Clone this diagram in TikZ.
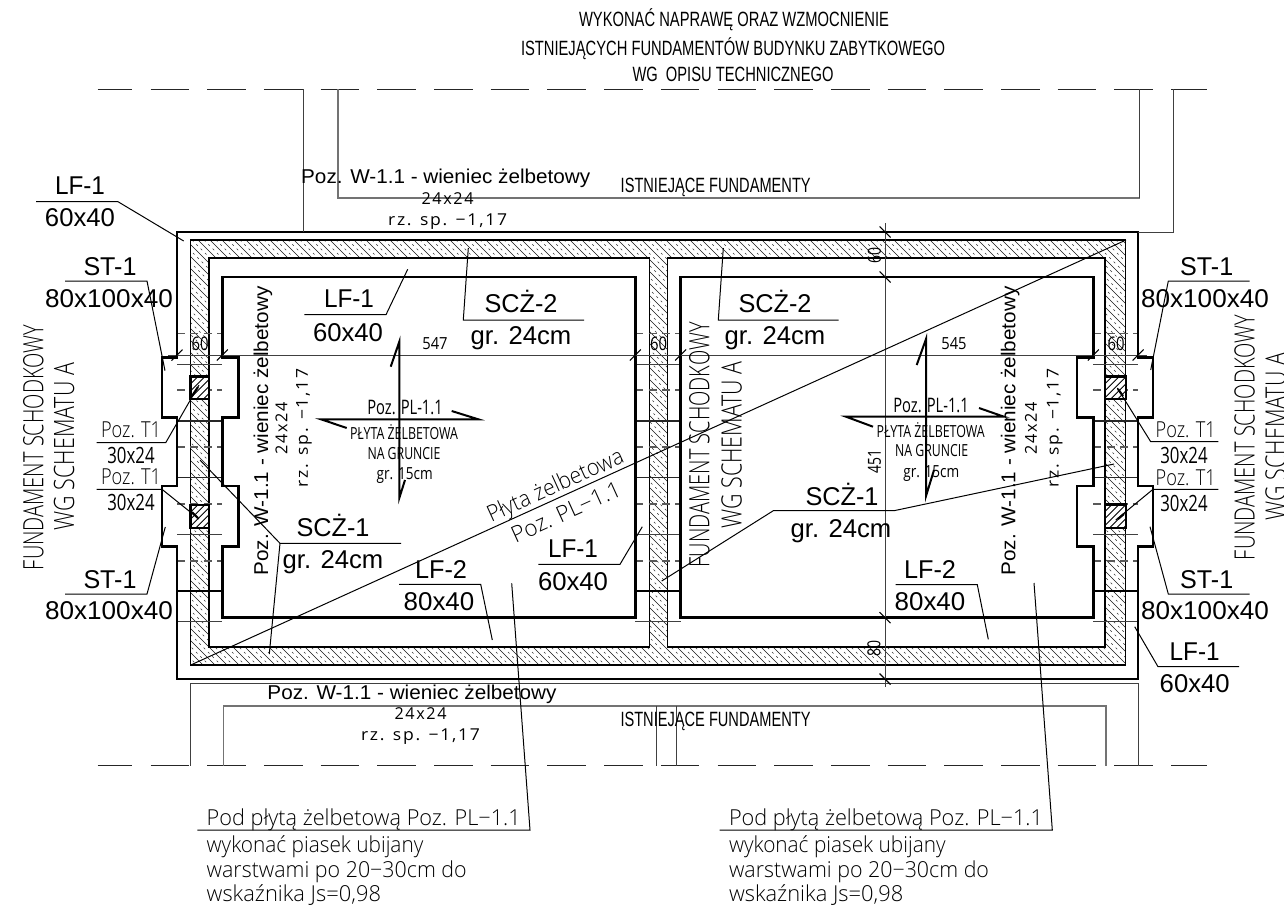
\documentclass[tikz,border=0pt]{standalone}
\usepackage{fontspec}
\usepackage{graphicx}
\newfontfamily\ari{Liberation Sans}
\newfontfamily\cad{Open Sans}
\newfontfamily\cadl{Open Sans Light}
\newfontfamily\cadw[LetterSpace=10]{Open Sans}
\newlength\uu \setlength\uu{0.75pt}
% #1 family, #2 size in pt, #3 width in px, #4 text; reference point = centre of the capitals
\newcommand\fit[4]{\raisebox{-0.358\dimexpr#2pt\relax}[0pt][0pt]{\resizebox{#3\uu}{\height}{\fontsize{#2pt}{#2pt}\selectfont#1{}#4}}}
\newcommand\A[2]{\fit{\ari}{19.3}{#1}{#2}}
\newcommand\W{\fit{\ari}{15}{289}{Poz. W-1.1 - wieniec żelbetowy}}
\newcommand\Ts[1]{\fit{\cadw}{12.3}{52}{24x24}}
\newcommand\Rz{\fit{\cadw}{12.3}{119}{rz. sp. −1,17}}
\tikzset{
  tx/.style={inner sep=0pt,outer sep=0pt,anchor=center},
  thickw/.style={line width=1.95pt,black,line join=miter},
  band/.style={line width=1pt,black},
  leader/.style={line width=0.75pt,black},
  dim/.style={line width=0.7pt,black!75},
  greyl/.style={line width=1.2pt,black!55},
  thinw/.style={line width=0.75pt,black!75},
  dashw/.style={line width=0.9pt,black!65,dash pattern=on 6pt off 4pt},
  hatchs/.style={line width=0.5pt,black!90},
  hatchd/.style={line width=0.45pt,black!80,dash pattern=on 1.6pt off 3pt},
  tick/.style={line width=0.8pt,black},
  arrowl/.style={line width=1.5pt,black},
}
\begin{document}
\begin{tikzpicture}[x=0.75pt,y=-0.75pt]
\useasboundingbox (0,0) rectangle (1284,904);
% hatching of the wall band
\begin{scope}
\clip (190.7,240) rectangle (1125.7,665);
\foreach \c in {-474,-462,...,886} \draw[hatchs] (\c+240,240) -- (\c+665,665);
\foreach \c in {-468,-456,...,886} \draw[hatchd] (\c+240,240) -- (\c+665,665);
\end{scope}
\fill[white] (209,258) rectangle (649.3,647);
\fill[white] (667.3,258) rectangle (1105,647);
\draw[band] (190.7,240) rectangle (1125.7,665);
\draw[band] (209,258) rectangle (649.3,647);
\draw[band] (667.3,258) rectangle (1105,647);
% cross lines through the foundation walls
\foreach \a/\b in {177/222.3,635.3/680.7,1093.3/1138}{
  \foreach \y in {333.7,390,447,504,561} \draw[dashw] (\a,\y) -- (\b,\y);
  \foreach \y in {364,534,621} \draw[thinw] (\a,\y) -- (\b,\y);
  \foreach \y in {421,477.5} \draw[line width=0.85pt,black!85] (\a,\y) -- (\b,\y);
  \draw[line width=1.1pt,black] (\a,591) -- (\b,591);
}
% columns T1
\foreach \x/\xx/\y/\yy in {190.7/209/376.7/399,190.7/209/505/528,1105/1126/376.7/399,1105/1126/504.5/528}{
  \fill[white] (\x,\y) rectangle (\xx,\yy);
  \begin{scope}
  \clip (\x,\y) rectangle (\xx,\yy);
  \foreach \d in {0,7,...,56} \draw[line width=0.7pt,black] (\x+\d,\y) -- (\x+\d-30,\y+30);
  \end{scope}
  \draw[line width=1.9pt,black] (\x,\y) rectangle (\xx,\yy);
}
% foundation outlines
\draw[thickw] (177,232) -- (1138,232) -- (1138,357.7) -- (1153,357.7) -- (1153,417.7) -- (1138,417.7) -- (1138,486) -- (1153,486) -- (1153,546.7) -- (1138,546.7) -- (1138,679) -- (177,679) -- (177,546.7) -- (162,546.7) -- (162,486) -- (177,486) -- (177,417.7) -- (162,417.7) -- (162,357.7) -- (177,357.7) -- cycle;
\draw[thickw] (222.3,277) -- (635.3,277) -- (635.3,617.7) -- (222.3,617.7) -- (222.3,546.7) -- (238.3,546.7) -- (238.3,486) -- (222.3,486) -- (222.3,417.7) -- (238.3,417.7) -- (238.3,357.7) -- (222.3,357.7) -- cycle;
\draw[thickw] (680.7,277) -- (1093.3,277) -- (1093.3,357.7) -- (1077,357.7) -- (1077,417.7) -- (1093.3,417.7) -- (1093.3,486) -- (1077,486) -- (1077,546.7) -- (1093.3,546.7) -- (1093.3,617.7) -- (680.7,617.7) -- cycle;
% existing foundations
\foreach \k in {1,...,19}{
  \pgfmathsetmacro\xa{93.8+56.7*\k}
  \pgfmathsetmacro\xb{min(\xa+38.6,1206.5)}
  \draw[line width=0.8pt,black!85] (\xa,89.3) -- (\xb,89.3);
  \draw[line width=0.8pt,black!85] (\xa,765.7) -- (\xb,765.7);
}
\draw[line width=0.8pt,black!85] (97.5,89.3) -- (132.4,89.3);
\draw[line width=0.8pt,black!85] (97.5,765.7) -- (132.4,765.7);
\draw[dim] (303,89.3) -- (303,232);
\draw[dim] (1173,89.3) -- (1173,232) -- (1138,232);
\draw[greyl] (338,89.3) -- (338,197.7) -- (1139.5,197.7);
\draw[dim] (1139.5,89.3) -- (1139.5,197.7);
\draw[dim] (190.7,765.7) -- (190.7,683.3) -- (1138,683.3) -- (1138,765.7);
\draw[greyl] (223.3,765.7) -- (223.3,706) -- (1105.7,706) -- (1105.7,765.7);
\draw[dim] (656.3,706) -- (656.3,765.7);
\draw[dim] (676.7,706) -- (676.7,765.7);
% dimension lines
\draw[dim] (168,355) -- (1147,355);
\foreach \x in {177,222.3,635.3,680.7,1093.3,1138} \draw[tick] (\x-5.5,360.5) -- (\x+5.5,349.5);
\draw[dim] (885,223) -- (885,687);
\foreach \y in {232,277,617.7,679} \draw[tick] (879.5,\y-5.5) -- (890.5,\y+5.5);
% slab span diagonal
\draw[leader] (190.7,665) -- (1126,240);
% slab arrows
\draw[arrowl] (390.7,366.7) -- (399.3,341.7) -- (399.3,498) -- (405,480);
\draw[arrowl] (346.7,428) -- (321,419.3) -- (478.3,419.3) -- (451.7,411);
\draw[arrowl] (916.7,365) -- (926,339) -- (926,496) -- (934,470);
\draw[arrowl] (873,426.7) -- (846,416.7) -- (1004,416.7) -- (979,408);
% leaders
\draw[leader] (36,201.7) -- (118,201.7) -- (183.7,241);
\draw[leader] (65,281) -- (147,281) -- (165,370.7);
\draw[leader] (96.7,442.7) -- (165.7,442.7) -- (199,385);
\draw[leader] (96.7,489.3) -- (162,489.3) -- (199,519);
\draw[leader] (65,594) -- (147,594) -- (165.3,527);
\draw[leader] (200,460) -- (280,543.3) -- (401,543.3);
\draw[leader] (280,543.3) -- (269.3,654);
\draw[leader] (304.3,314.7) -- (386,314.7) -- (407.7,269.3);
\draw[leader] (584,320) -- (463.3,320) -- (468.3,248);
\draw[leader] (838.7,320) -- (718.3,320) -- (723.3,248);
\draw[leader] (399,584.3) -- (480.7,584.3) -- (492.3,640);
\draw[leader] (538.3,564.3) -- (620,564.3) -- (642.3,526.7);
\draw[leader] (197.3,830) -- (530,830) -- (511.7,583.3);
\draw[leader] (719.6,830) -- (1052.3,830) -- (1034,583);
\draw[leader] (661.7,581) -- (773.3,510.7) -- (894,510.7) -- (1114,464);
\draw[leader] (895.7,584.7) -- (977.3,584.7) -- (988.3,639.3);
\draw[leader] (1249.7,281) -- (1168.3,281) -- (1150.7,370);
\draw[leader] (1218.3,441.7) -- (1150.7,441.7) -- (1117.3,388);
\draw[leader] (1218.3,489.3) -- (1153,489.3) -- (1115.7,520);
\draw[leader] (1249.7,594) -- (1168.3,594) -- (1150,526.7);
\draw[leader] (1239,666.7) -- (1158,666.7) -- (1134.7,626.7);
\foreach \xa/\ya/\xb/\yb in {192/396/198/387,192/512/198/518,1118/389/1123/396,1118/519/1124/514}
  \draw[line width=1.6pt,black] (\xa,\ya) -- (\xb,\yb);
% title
\node[tx] (t1) at (734,19.3) {\fit{\ari}{15.5}{310}{WYKONAĆ NAPRAWĘ ORAZ WZMOCNIENIE}};
\node[tx] (t2) at (733,48.3) {\fit{\ari}{15.5}{424}{ISTNIEJĄCYCH FUNDAMENTÓW BUDYNKU ZABYTKOWEGO}};
\node[tx] (t3) at (733,74.5) {\fit{\ari}{15.5}{201}{WG\ \ OPISU TECHNICZNEGO}};
\node[tx] (e1) at (715.7,185) {\fit{\ari}{15.5}{190}{ISTNIEJĄCE FUNDAMENTY}};
\node[tx] (e2) at (715.5,719) {\fit{\ari}{15.5}{190}{ISTNIEJĄCE FUNDAMENTY}};
% ring beam labels
\node[tx] (w1) at (445.7,176.7) {\W};
\node[tx] (w1a) at (447.6,199) {\Ts{}};
\node[tx] (w1b) at (447.6,220) {\Rz};
\node[tx] (w2) at (412,692) {\W};
\node[tx] (w2a) at (420.5,714) {\Ts{}};
\node[tx] (w2b) at (420.5,735) {\Rz};
\node[tx,rotate=90] (w3) at (261,431) {\W};
\node[tx,rotate=90] (w3a) at (281.5,428) {\Ts{}};
\node[tx,rotate=90] (w3b) at (302,428) {\Rz};
\node[tx,rotate=90] (w4) at (1008.3,431) {\W};
\node[tx,rotate=90] (w4a) at (1031,428) {\Ts{}};
\node[tx,rotate=90] (w4b) at (1052.7,428) {\Rz};
% LF / ST / SCZ labels
\node[tx] (a1) at (80,185.7) {\A{50}{LF-1}};
\node[tx] (a2) at (80,217.5) {\A{70}{60x40}};
\node[tx] (a3) at (110,266.5) {\A{53}{ST-1}};
\node[tx] (a4) at (109,298.7) {\A{127.7}{80x100x40}};
\node[tx] (a5) at (110,579) {\A{53}{ST-1}};
\node[tx] (a6) at (109,610.7) {\A{127.7}{80x100x40}};
\node[tx] (a7) at (349,298) {\A{50}{LF-1}};
\node[tx] (a8) at (348,331.8) {\A{70}{60x40}};
\node[tx] (a9) at (521,303) {\A{73}{SCŻ-2}};
\node[tx] (a10) at (521,335) {\A{100.7}{gr. 24cm}};
\node[tx] (a11) at (775,303) {\A{73}{SCŻ-2}};
\node[tx] (a12) at (775,335) {\A{100.7}{gr. 24cm}};
\node[tx] (a13) at (333,527) {\A{73}{SCŻ-1}};
\node[tx] (a14) at (333,559.5) {\A{100.7}{gr. 24cm}};
\node[tx] (a15) at (842,496) {\A{73}{SCŻ-1}};
\node[tx] (a16) at (841,528.5) {\A{100.7}{gr. 24cm}};
\node[tx] (a17) at (441,569) {\A{52}{LF-2}};
\node[tx] (a18) at (439,601) {\A{70.7}{80x40}};
\node[tx] (a19) at (930,569) {\A{52}{LF-2}};
\node[tx] (a20) at (930,601) {\A{70.7}{80x40}};
\node[tx] (a21) at (573,548) {\A{50}{LF-1}};
\node[tx] (a22) at (573,581) {\A{70}{60x40}};
\node[tx] (a23) at (1206.7,266) {\A{53}{ST-1}};
\node[tx] (a24) at (1205,298.7) {\A{127.7}{80x100x40}};
\node[tx] (a25) at (1206.7,579) {\A{53}{ST-1}};
\node[tx] (a26) at (1205,610.7) {\A{127.7}{80x100x40}};
\node[tx] (a27) at (1194.7,651) {\A{50}{LF-1}};
\node[tx] (a28) at (1194.7,683) {\A{70}{60x40}};
% column labels
\node[tx] (p1) at (131,430) {\fit{\cadl}{16.5}{60}{Poz. T1}};
\node[tx] (p2) at (131,455) {\fit{\cad}{16.8}{47.3}{30x24}};
\node[tx] (p3) at (131,477) {\fit{\cadl}{16.5}{60}{Poz. T1}};
\node[tx] (p4) at (131,502) {\fit{\cad}{16.8}{47.3}{30x24}};
\node[tx] (p5) at (1185.7,430) {\fit{\cadl}{16.5}{60}{Poz. T1}};
\node[tx] (p6) at (1184,455) {\fit{\cad}{16.8}{47.3}{30x24}};
\node[tx] (p7) at (1185.7,478) {\fit{\cadl}{16.5}{60}{Poz. T1}};
\node[tx] (p8) at (1184,503) {\fit{\cad}{16.8}{47.3}{30x24}};
% slab labels
\node[tx] (s1) at (405,407) {\fit{\cad}{15}{75.5}{Poz. PL-1.1}};
\node[tx] (s2) at (404,434) {\fit{\cad}{12.5}{108}{PŁYTA ŻELBETOWA}};
\node[tx] (s3) at (404,454) {\fit{\cad}{12.5}{73}{NA GRUNCIE}};
\node[tx] (s4) at (404.7,474) {\fit{\cad}{12.5}{56}{gr. 15cm}};
\node[tx] (s5) at (931,405) {\fit{\cad}{15}{75.5}{Poz. PL-1.1}};
\node[tx] (s6) at (930.7,431.7) {\fit{\cad}{12.5}{108}{PŁYTA ŻELBETOWA}};
\node[tx] (s7) at (931.7,451) {\fit{\cad}{12.5}{73}{NA GRUNCIE}};
\node[tx] (s8) at (931.3,472) {\fit{\cad}{12.5}{56}{gr. 15cm}};
\node[tx,rotate=24.4] (s9) at (555,485) {\fit{\cadl}{17}{147}{Płyta żelbetowa}};
\node[tx,rotate=24.4] (s10) at (566,512) {\fit{\cadl}{17}{118}{Poz. PL−1.1}};
% dimensions
\node[tx] (d1) at (200,344) {\fit{\cad}{14}{17}{60}};
\node[tx] (d2) at (435,344) {\fit{\cad}{12.5}{25.3}{547}};
\node[tx] (d3) at (658.7,344) {\fit{\cad}{14}{17}{60}};
\node[tx] (d4) at (954,344) {\fit{\cad}{12.5}{25.3}{545}};
\node[tx] (d5) at (1116,344) {\fit{\cad}{14}{17}{60}};
\node[tx,rotate=90] (d6) at (874.5,255) {\fit{\cad}{13.5}{16}{60}};
\node[tx,rotate=90] (d7) at (874.5,461.5) {\fit{\cad}{13.5}{24}{451}};
\node[tx,rotate=90] (d8) at (874,648) {\fit{\cad}{13.5}{16}{80}};
% stepped foundation labels
\node[tx,rotate=90] (f1) at (33.3,447.5) {\fit{\cadl}{21}{245}{FUNDAMENT SCHODKOWY}};
\node[tx,rotate=90] (f2) at (64,446.5) {\fit{\cadl}{21}{167}{WG SCHEMATU A}};
\node[tx,rotate=90] (f3) at (699.3,444.8) {\fit{\cadl}{21}{245}{FUNDAMENT SCHODKOWY}};
\node[tx,rotate=90] (f4) at (731.7,444.8) {\fit{\cadl}{21}{167}{WG SCHEMATU A}};
\node[tx,rotate=90] (f5) at (1244.7,437.5) {\fit{\cadl}{21}{245}{FUNDAMENT SCHODKOWY}};
\node[tx,rotate=90] (f6) at (1275.7,436.5) {\fit{\cadl}{21}{167}{WG SCHEMATU A}};
% notes
\foreach \x/\n in {206.7/l,729/r}{
  \node[tx,anchor=west] (n1\n) at (\x,818) {\fit{\cadl}{16.5}{314}{Pod płytą żelbetową Poz. PL−1.1}};
  \node[tx,anchor=west] (n2\n) at (\x,845) {\fit{\cadl}{16.5}{216.6}{wykonać piasek ubijany}};
  \node[tx,anchor=west] (n3\n) at (\x,870) {\fit{\cadl}{16.5}{260}{warstwami po 20−30cm do}};
  \node[tx,anchor=west] (n4\n) at (\x,894) {\fit{\cadl}{16.5}{174.3}{wskaźnika Js=0,98}};
}
\end{tikzpicture}
\end{document}
